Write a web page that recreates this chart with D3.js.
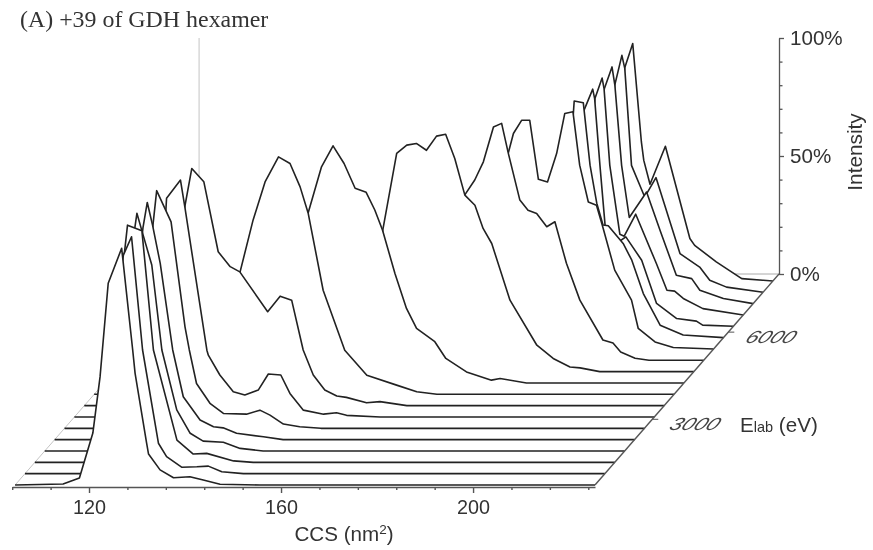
<!DOCTYPE html>
<html>
<head>
<meta charset="utf-8">
<script src="https://cdn.jsdelivr.net/npm/d3@7"></script>
<style>
html,body{margin:0;padding:0;background:#fff;}
svg{display:block;filter:blur(0.35px);}
text{fill:#333;font-family:"Liberation Sans",Arial,sans-serif;}
</style>
</head>
<body>
<svg id="chart" width="873" height="550"></svg>
<script>
const titleText = "(A) +39 of GDH hexamer";
const ccsTicks = [120, 160, 200];
const ccsMinorTicks = [104,112,128,136,144,152,168,176,184,192,208,216,224];
const intensityTicks = [0, 50, 100];
const intensityMinorTicks = [10,20,30,40,60,70,80,90];
const elabTicks = [3000, 6000];
const elabValues = [740,1130,1520,1910,2300,2690,3080,3470,3860,4250,4640,5030,5420,5810,6200,6590,6980,7370,7760];

// [CCS nm2, intensity %]; front spectrum first
const s01 = [[104.6,0],[114.6,0.4],[118,3],[118.5,6.4],[120.8,22],[122.3,45.8],[124,85.5],[126.8,100.3],[129.1,57.2],[129.6,47.3],[132,17.7],[132.4,13.1],[134.8,6.4],[137.6,3.1],[141,3.5],[143.8,2.1],[147.3,0.3],[155.6,0],[225.4,0]];
const s02 = [[104.6,0],[119.2,0],[125.1,92.6],[126.8,100.4],[129.1,52.4],[132.4,12.9],[134.1,7.2],[137.3,2.7],[140.4,2.9],[142.8,3.2],[145.6,0.8],[150.1,0],[225.4,0]];
const s03 = [[104.6,0],[118.2,0],[123.4,91.3],[123.9,100.5],[126.9,98.1],[129.3,47.6],[134.2,9.4],[137.6,3.5],[140.4,3.8],[146,0.6],[150.1,0],[225.4,0]];
const s04 = [[104.6,0],[118.2,0],[123,89.4],[123.8,100.7],[124.8,93.6],[126.9,78.8],[129,42.8],[132.1,17.4],[134.9,7.5],[137.6,4.2],[141.8,3.7],[145.3,1.1],[150.1,0],[225.4,0]];
const s05 = [[104.6,0],[118.2,0],[123,89.7],[123.9,100.5],[125,90.9],[126.6,74.7],[129.2,38],[131.4,18.2],[134.9,8.3],[137.7,5.5],[139.7,5],[142.5,2.7],[148.1,1.2],[152.2,0],[225.4,0]];
const s06 = [[104.6,0],[118.2,0],[123,85.7],[123.8,100.7],[126.8,87.5],[129.7,43],[130.6,33.2],[132.1,19],[134.9,10.6],[137.7,6.3],[142.5,6],[145.3,7.7],[147.4,5.6],[150.2,1.8],[153.6,0.7],[158,0],[225.4,0]];
const s07 = [[104.6,0],[118.3,0],[123.6,85.5],[123.8,92.7],[126.7,100.4],[127.6,89.1],[132.2,28.3],[132.5,26.2],[134.9,17.8],[137.7,10.7],[140.1,9.3],[142.9,11.4],[145,18.2],[147.6,17.8],[149.5,10],[152.3,2.9],[156.5,1.2],[159.2,1.8],[161.3,0.7],[168.3,0],[225.4,0]];
const s08 = [[104.6,0],[118.3,0],[125.6,85],[127,100.5],[129.5,94.9],[132.5,65.2],[135,58.9],[137,56.7],[142.8,39.8],[145.4,46.4],[147.8,44.7],[150.2,23.6],[152.3,13],[154.7,6.6],[157.2,4.1],[159.2,3.5],[163.4,1.2],[166.2,1.7],[171.8,0],[225.4,0]];
const s09 = [[104.6,0],[130.8,0],[135,51.9],[137.7,73.8],[140.2,90],[143,100.6],[145.4,97.8],[147.5,87.9],[149.2,76.6],[152.3,44.1],[156.8,18.7],[161.4,8.1],[167.6,3.9],[171.8,1.1],[176,0],[225.4,0]];
const s10 = [[104.6,0],[142.3,0],[147.1,71.9],[149.9,91.6],[152.3,100.5],[154.6,93],[156.9,82.5],[159.2,80.8],[161,73.3],[162.6,64.8],[165.2,46.4],[167.6,31.6],[169.7,23.1],[173.5,17.5],[175.8,10.4],[180.1,4.7],[185.3,1.2],[187.1,1.9],[192.6,0],[225.4,0]];
const s11 = [[104.6,0],[156.9,0],[160.6,60],[163.5,92.5],[165.6,96],[167.6,96.7],[169.7,93.8],[171.8,99.8],[173.7,100.6],[175.6,90.3],[177.7,74.8],[179.8,70.5],[181.5,60.7],[183.3,54.3],[187.1,30.3],[192.7,11.2],[196.1,5.6],[199.6,2],[201.7,1.6],[205.8,0],[225.4,0]];
const s12 = [[104.6,0],[171.5,0],[175.6,70],[177.7,76.4],[179.5,84.1],[181.6,98.9],[183.3,100.4],[184.7,87.7],[187.1,67.9],[188.8,63.6],[190.6,62.2],[192.7,56.6],[194.4,58.7],[196.8,41.1],[199.6,25.5],[204.4,8.6],[206.5,7.3],[208.1,3.5],[211.1,0.9],[214,0],[225.4,0]];
const s13 = [[104.6,0],[178.8,0],[182.6,82.8],[183.7,91.3],[185.4,96.9],[187.1,96.9],[188.9,71.9],[190.8,70.8],[192.7,82.8],[194.4,99.8],[196.1,100.5],[197.5,77.9],[199.3,62.3],[201,60.9],[202.2,52.5],[204.8,33.4],[208.3,20.7],[209.7,8.7],[213.2,3],[217,0.6],[225.4,0]];
const s14 = [[104.6,0],[188.2,0],[194.1,94.3],[194.3,100.3],[196.2,99.5],[197.6,73.1],[199,57],[200.3,47.7],[201.4,47.4],[204.5,39.9],[206.3,32.8],[208.7,18.7],[212.2,5.3],[217,1.1],[225.4,0]];
const s15 = [[104.6,0],[190.3,0],[194.3,91.6],[196.1,100.5],[196.5,96.5],[197.6,68.3],[198.8,39.9],[201.1,35.2],[203,37.9],[206.3,28],[209.4,9.7],[213.6,3.3],[217.7,2.2],[219,0.5],[225.4,0]];
const s16 = [[104.6,0],[190.3,0],[194.5,91.7],[196,100.4],[196.4,95.9],[197.6,63.4],[199.7,34.2],[200.6,33.4],[203,42.7],[207.3,21.8],[209.5,10.5],[211.1,10.1],[212.9,7],[217,2.7],[225.4,0]];
const s17 = [[104.6,0],[190.3,0],[194.4,91.1],[196,100.3],[196.6,92.5],[198,58.6],[199.6,36.5],[203.2,47.3],[206,31.1],[209.4,12],[212.6,10.6],[214.3,5.7],[219.2,2.2],[225.4,0]];
const s18 = [[104.6,0],[190.4,0],[194.5,87.7],[196,100.4],[196.6,94.9],[198,53.8],[200.6,41.1],[201.2,41.9],[203.1,48.6],[208.1,16.4],[212.2,10.7],[214.3,5.1],[217.8,2.2],[225.4,0]];
const s19 = [[104.6,0],[190.4,0],[194.5,90.1],[196.2,100.6],[198,58.9],[198.5,51.1],[199.8,41],[203,57.1],[208.1,18],[209.1,15.1],[213.6,8.1],[218.9,1],[225.4,0]];
const allSeries = [s01,s02,s03,s04,s05,s06,s07,s08,s09,s10,s11,s12,s13,s14,s15,s16,s17,s18,s19];

const svg = d3.select("#chart");
const xScale = d3.scaleLinear().domain([104, 225.4]).range([12.2, 595]);
const yBase = d3.scaleLinear().domain([0, 100]).range([485, 249]);
const depthX = d3.scaleLinear().domain([740, 8000]).range([0, 184]);
const depthY = d3.scaleLinear().domain([740, 8000]).range([0, -211]);
const wallY = d3.scaleLinear().domain([0, 100]).range([274, 38]);

const lineColor = "#222", axisColor = "#555";

// back plane
const x1 = xScale.domain()[1];
const dMax = depthX.domain()[1], dMin = depthX.domain()[0];
const plane = d3.line().x(d => xScale(d[0]) + depthX(d[1])).y(d => yBase(d[2]) + depthY(d[1]));
svg.append("path").attr("d", plane([[104.6,dMin,0],[104.6,dMax,0],[104.6,dMax,100]]))
  .attr("fill","none").attr("stroke","#c4c4c4").attr("stroke-width",1);
svg.append("path").attr("d", plane([[104.6,dMax,0],[x1,dMax,0]]))
  .attr("fill","none").attr("stroke","#aaa").attr("stroke-width",1);

// spectra, back to front
const gS = svg.append("g");
d3.range(allSeries.length - 1, -1, -1).forEach(k => {
  const dx = depthX(elabValues[k]), dy = depthY(elabValues[k]);
  const g = gS.append("g").attr("transform", `translate(${dx},${dy})`);
  const area = d3.area().x(d => xScale(d[0])).y0(yBase(0)).y1(d => yBase(d[1]));
  const line = d3.line().x(d => xScale(d[0])).y(d => yBase(d[1]));
  g.append("path").attr("d", area(allSeries[k])).attr("fill", "#fff");
  g.append("path").attr("d", line(allSeries[k])).attr("fill", "none")
    .attr("stroke", lineColor).attr("stroke-width", 1.6).attr("stroke-linejoin", "round");
});

// depth axis
svg.append("path").attr("d", plane([[x1,dMin,0],[x1,dMax,0]]))
  .attr("fill","none").attr("stroke",axisColor).attr("stroke-width",1.4);
elabTicks.forEach(t => {
  const px = xScale(x1) + depthX(t), py = yBase(0) + depthY(t);
  svg.append("line").attr("x1",px).attr("x2",px+6).attr("y1",py).attr("y2",py)
    .attr("stroke",axisColor).attr("stroke-width",1);
  svg.append("text").text(t)
    .attr("transform",`translate(${px+15.5},${py+11}) skewX(-30) scale(1.24,1)`)
    .attr("font-size",17.5).attr("font-style","italic").attr("style","fill:#444");
});

// x axis
const gx = svg.append("g").attr("transform","translate(0,487)");
gx.call(d3.axisBottom(xScale).tickValues(ccsMinorTicks).tickSize(3).tickSizeOuter(0).tickFormat(""));
const gx2 = svg.append("g").attr("transform","translate(0,487)");
gx2.call(d3.axisBottom(xScale).tickValues(ccsTicks).tickSize(6).tickSizeOuter(0).tickPadding(7).tickFormat(d3.format("d")));
gx2.select(".domain").remove();
[gx,gx2].forEach(g => { g.selectAll("line,path").attr("stroke",axisColor).attr("stroke-width",1.4);
  g.selectAll("text").attr("font-size",19.8).attr("font-family",null); });

// intensity axis
const gy = svg.append("g").attr("transform","translate(779,0)");
gy.call(d3.axisRight(wallY).tickValues(intensityMinorTicks).tickSize(3.5).tickSizeOuter(0).tickFormat(""));
const gy2 = svg.append("g").attr("transform","translate(779,0)");
gy2.call(d3.axisRight(wallY).tickValues(intensityTicks).tickSize(5).tickSizeOuter(0).tickPadding(6).tickFormat(d => d + "%"));
gy2.select(".domain").remove();
[gy,gy2].forEach(g => { g.selectAll("line,path").attr("stroke",axisColor).attr("stroke-width",1.3);
  g.selectAll("text").attr("font-size",20.6).attr("font-family",null); });

// titles
svg.append("text").text(titleText).attr("x",20).attr("y",27)
  .attr("font-size",23.9).attr("style",'fill:#333;font-family:"Liberation Serif",serif');
const ccsT = svg.append("text").attr("x",344).attr("y",541).attr("text-anchor","middle").attr("font-size",20.6);
ccsT.append("tspan").text("CCS (nm");
ccsT.append("tspan").text("2").attr("font-size",13.5).attr("dy",-7);
ccsT.append("tspan").text(")").attr("dy",7);
svg.append("text").text("Intensity").attr("text-anchor","middle").attr("font-size",20.8)
  .attr("transform","translate(862,152) rotate(-90)");
const el = svg.append("text").attr("x",740).attr("y",431.5).attr("font-size",20.6);
el.append("tspan").text("E");
el.append("tspan").text("lab").attr("font-size",14.5);
el.append("tspan").text(" (eV)");
</script>
</body>
</html>
